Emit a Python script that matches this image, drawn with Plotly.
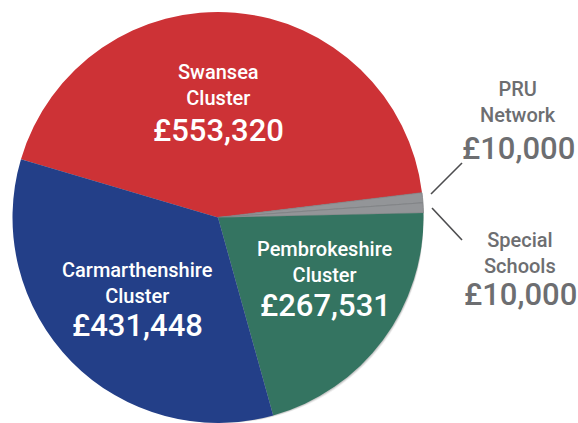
import plotly.graph_objects as go

# slices, in drawing order (clockwise from the Swansea/Carmarthenshire edge)
names = ["Swansea Cluster", "PRU Network", "Special Schools",
         "Pembrokeshire Cluster", "Carmarthenshire Cluster"]
values = [553320, 10000, 10000, 267531, 431448]
colors = ["#cd3236", "#939598", "#939598", "#347461", "#233f88"]

W, H = 578, 423
L, T = 12, 12
PIE_D = 412                      # pie diameter in px
PW, PH = W - L, H - T            # plot area


def px(x):
    # x in window pixels -> paper fraction
    return (x - L) / PW


def py(y):
    return (H - y) / PH


# label centres in window px: (x, name centre y, value y, inside?)
label_pos = {
    "Swansea Cluster": (218, 85, 130, True),
    "PRU Network": (518, 102, 148, False),
    "Special Schools": (520, 253, 294, False),
    "Pembrokeshire Cluster": (325, 262, 305, True),
    "Carmarthenshire Cluster": (137, 283, 325, True),
}

FONT = "Roboto"

fig = go.Figure()

# soft drop shadow behind the pie
for i, a in enumerate([0.06, 0.08, 0.10]):
    off = 6 - 2 * i
    fig.add_trace(go.Pie(
        values=[sum(values)],
        marker=dict(colors=[f"rgba(0,0,0,{a})"], line=dict(width=0)),
        textinfo="none", hoverinfo="skip", sort=False, showlegend=False,
        domain=dict(x=[off / PW, (PIE_D + off) / PW], y=[0, 1 - 2 * off / PH]),
    ))

fig.add_trace(go.Pie(
    labels=names,
    values=values,
    sort=False,
    direction="clockwise",
    rotation=286.5,
    marker=dict(colors=colors,
                line=dict(color="#7f8184", width=[0, 0.8, 0.8, 0, 0])),
    textinfo="none",
    hovertemplate="%{label}<br>£%{value:,}<extra></extra>",
    showlegend=False,
    domain=dict(x=[0, PIE_D / PW], y=[0, 1]),
))

for name, val in zip(names, values):
    x, yn, yv, inside = label_pos[name]
    col = "white" if inside else "#6d6e71"
    fig.add_annotation(
        text=name.replace(" ", "<br>"), x=px(x), y=py(yn),
        xref="paper", yref="paper", showarrow=False,
        xanchor="center", yanchor="middle",
        font=dict(family=FONT, size=20, color=col, weight=500),
    )
    fig.add_annotation(
        text=f"£{val:,}", x=px(x), y=py(yv),
        xref="paper", yref="paper", showarrow=False,
        xanchor="center", yanchor="middle",
        font=dict(family=FONT, size=31, color=col, weight=500),
    )

# leader lines to the two small slices
for (x0, y0, x1, y1) in [(462, 163, 431, 194), (432, 208, 462, 240)]:
    fig.add_shape(type="line", xref="paper", yref="paper",
                  x0=px(x0), y0=py(y0), x1=px(x1), y1=py(y1),
                  line=dict(color="#4d4d4f", width=1.6))

fig.update_layout(
    width=W, height=H,
    margin=dict(l=L, r=0, t=T, b=0),
    paper_bgcolor="white",
    plot_bgcolor="white",
)

# drop the default body margin so the figure fills the window exactly
fig.write_html("out.html", config={"displayModeBar": False},
               post_script="document.body.style.margin = '0';")
